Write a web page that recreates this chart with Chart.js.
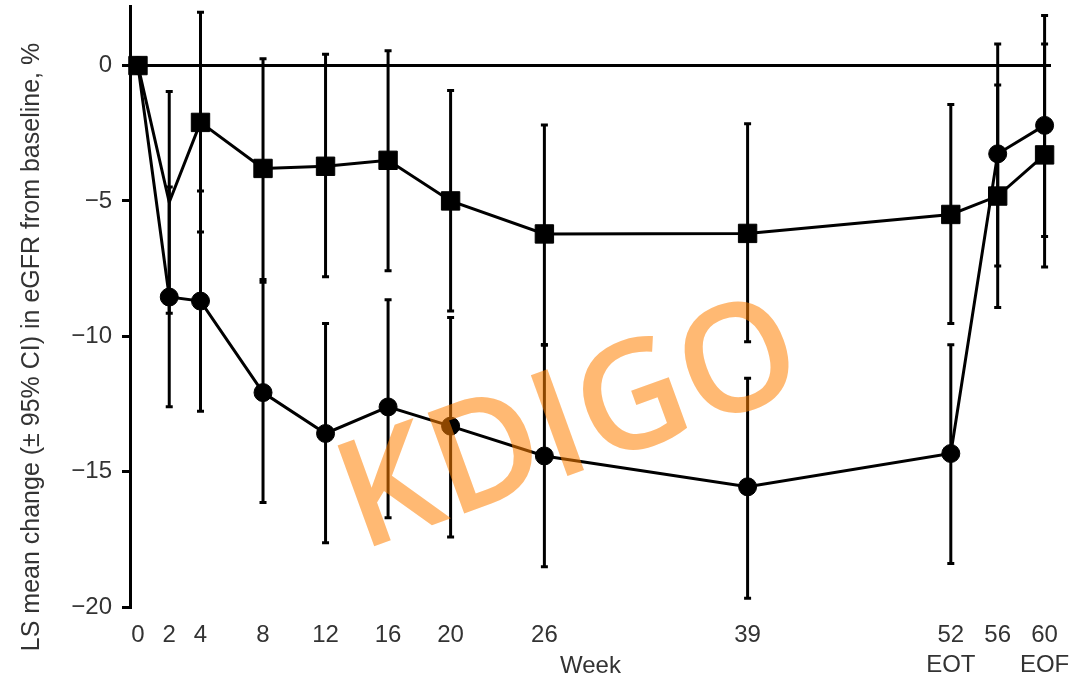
<!DOCTYPE html>
<html>
<head>
<meta charset="utf-8">
<script src="https://cdn.jsdelivr.net/npm/chart.js@4.4.1/dist/chart.umd.min.js"></script>
<style>
html, body { margin: 0; padding: 0; background: #ffffff; }
#wrap { width: 1070px; height: 680px; position: relative; }
</style>
</head>
<body>
<div id="wrap"><canvas id="c"></canvas></div>
<script>
// ---- data ----
const weeks = [0, 2, 4, 8, 12, 16, 20, 26, 39, 52, 56, 60];
const xTickLabels = ['0', '2', '4', '8', '12', '16', '20', '26', '39', ['52', 'EOT'], '56', ['60', 'EOF']];
const yTicks = [0, -5, -10, -15, -20];

const squareMean = [0, -5.05, -2.1, -3.8, -3.72, -3.5, -5.0, -6.22, -6.2, -5.5, -4.82, -3.3];
const squareLow  = [null, -9.15, -6.15, -7.9, -7.8, -7.58, -9.07, -10.3, -10.2, -9.53, -8.94, -7.44];
const squareHigh = [null, -0.96, 1.97, 0.25, 0.42, 0.55, -0.92, -2.2, -2.15, -1.44, -0.72, 0.8];

const circleMean = [0, -8.55, -8.7, -12.08, -13.59, -12.61, -13.32, -14.42, -15.56, -14.33, -3.26, -2.21];
const circleLow  = [null, -12.6, -12.77, -16.14, -17.63, -16.7, -17.41, -18.51, -19.68, -18.39, -7.4, -6.31];
const circleHigh = [null, -4.49, -4.63, -8.0, -9.53, -8.65, -9.31, -10.33, -11.55, -10.31, 0.8, 1.85];

const xTitle = 'Week';
const yTitle = 'LS mean change (\u00b1 95% CI) in eGFR from baseline, %';
const watermark = 'KDIGO';

// ---- axis: the follow-up period after week 52 is drawn compressed, as in the original ----
const compressFrom = 52, compressFactor = 0.75;
const warp = v => v <= compressFrom ? v : compressFrom + (v - compressFrom) * compressFactor;
const unwarp = v => v <= compressFrom ? v : compressFrom + (v - compressFrom) / compressFactor;
const xLo = -0.51, xHi = 58.41;

class CompressedWeekScale extends Chart.LinearScale {
  determineDataLimits() { this.min = xLo; this.max = xHi; }
  getPixelForValue(v) {
    return (v === null || v === undefined) ? NaN : super.getPixelForValue(warp(v));
  }
  getValueForPixel(p) { return unwarp(super.getValueForPixel(p)); }
}
CompressedWeekScale.id = 'compressedWeek';
CompressedWeekScale.defaults = Chart.LinearScale.defaults;
Chart.register(CompressedWeekScale);

const TEXT = '#333333';
const FONT = "'Liberation Sans', Arial, Helvetica, sans-serif";
Chart.defaults.font.family = FONT;
Chart.defaults.color = TEXT;

const toPoints = arr => weeks.map((w, i) => ({ x: w, y: arr[i] }));

const errorBars = {
  id: 'errorBars',
  beforeDatasetsDraw(chart) {
    const { ctx, scales: { x, y } } = chart;
    ctx.save();
    ctx.strokeStyle = '#000';
    ctx.lineWidth = 3;
    ctx.lineCap = 'butt';
    [[circleLow, circleHigh], [squareLow, squareHigh]].forEach(([lo, hi]) => {
      weeks.forEach((w, i) => {
        if (lo[i] == null || hi[i] == null) return;
        const px = x.getPixelForValue(w);
        const y1 = y.getPixelForValue(lo[i]);
        const y2 = y.getPixelForValue(hi[i]);
        ctx.beginPath();
        ctx.moveTo(px, y1); ctx.lineTo(px, y2);
        ctx.stroke();
        ctx.beginPath();
        ctx.moveTo(px - 3.5, y1); ctx.lineTo(px + 3.5, y1);
        ctx.moveTo(px - 3.5, y2); ctx.lineTo(px + 3.5, y2);
        ctx.stroke();
      });
    });
    ctx.restore();
  }
};

const decorations = {
  id: 'decorations',
  afterDraw(chart) {
    const { ctx, chartArea } = chart;
    ctx.save();
    ctx.fillStyle = TEXT;
    ctx.font = '25px ' + FONT;
    ctx.textAlign = 'center';
    ctx.textBaseline = 'middle';
    // y title
    ctx.save();
    ctx.translate(32, 347);
    ctx.rotate(-Math.PI / 2);
    ctx.fillText(yTitle, 0, 0);
    ctx.restore();
    // x title (sits on the second tick-label line)
    ctx.font = '24px ' + FONT;
    ctx.fillText(xTitle, (chartArea.left + chartArea.right) / 2, 666);
    // watermark
    ctx.save();
    ctx.translate(361, 551);
    ctx.rotate(-20 * Math.PI / 180);
    ctx.font = "600 150px 'Open Sans', 'Noto Sans', sans-serif";
    ctx.fillStyle = 'rgba(255,128,0,0.55)';
    ctx.textAlign = 'left';
    ctx.textBaseline = 'alphabetic';
    ctx.fillText(watermark, 0, 0);
    ctx.restore();
    ctx.restore();
  }
};

const noPad = s => { s.paddingTop = 0; s.paddingBottom = 0; s.paddingLeft = 0; s.paddingRight = 0; };

new Chart(document.getElementById('c'), {
  type: 'line',
  data: {
    datasets: [
      {
        label: 'circles',
        data: toPoints(circleMean),
        borderColor: '#000',
        backgroundColor: '#000',
        borderWidth: 3,
        pointStyle: 'circle',
        pointRadius: 9,
        pointBorderWidth: 1,
        pointBackgroundColor: '#000',
        pointBorderColor: '#000',
        tension: 0,
        clip: false
      },
      {
        label: 'squares',
        data: toPoints(squareMean),
        borderColor: '#000',
        backgroundColor: '#000',
        borderWidth: 3,
        pointStyle: 'rect',
        pointRadius: weeks.map((w, i) => i === 1 ? 0 : 13),
        pointBorderWidth: 1,
        pointBackgroundColor: '#000',
        pointBorderColor: '#000',
        tension: 0,
        clip: false
      }
    ]
  },
  options: {
    responsive: true,
    maintainAspectRatio: false,
    animation: false,
    events: [],
    layout: { autoPadding: false, padding: { top: 6, right: 19, bottom: 0, left: 0 } },
    plugins: { legend: { display: false }, tooltip: { enabled: false } },
    scales: {
      x: {
        type: 'compressedWeek',
        bounds: 'data',
        afterBuildTicks: s => { s.ticks = weeks.map(w => ({ value: w })); },
        afterFit: s => { s.height = 73; noPad(s); },
        grid: { display: false, drawTicks: false },
        border: { display: false },
        ticks: {
          autoSkip: false,
          maxRotation: 0,
          padding: 13,
          color: TEXT,
          font: { size: 24, lineHeight: 1.25 },
          callback: (v, i) => xTickLabels[i]
        }
      },
      y: {
        type: 'linear',
        min: -20,
        max: 2.2,
        afterBuildTicks: s => { s.ticks = yTicks.map(v => ({ value: v })); },
        afterFit: s => { s.width = 130; noPad(s); },
        border: { display: true, color: '#000', width: 3 },
        grid: {
          color: c => (c.tick && c.tick.value === 0) ? '#000' : 'rgba(0,0,0,0)',
          lineWidth: 3,
          tickColor: '#000',
          tickLength: 8,
          tickWidth: 3
        },
        ticks: {
          padding: 10,
          color: TEXT,
          font: { size: 24 },
          callback: v => v === 0 ? '0' : '\u2212' + Math.abs(v)
        }
      }
    }
  },
  plugins: [errorBars, decorations]
});
</script>
</body>
</html>
